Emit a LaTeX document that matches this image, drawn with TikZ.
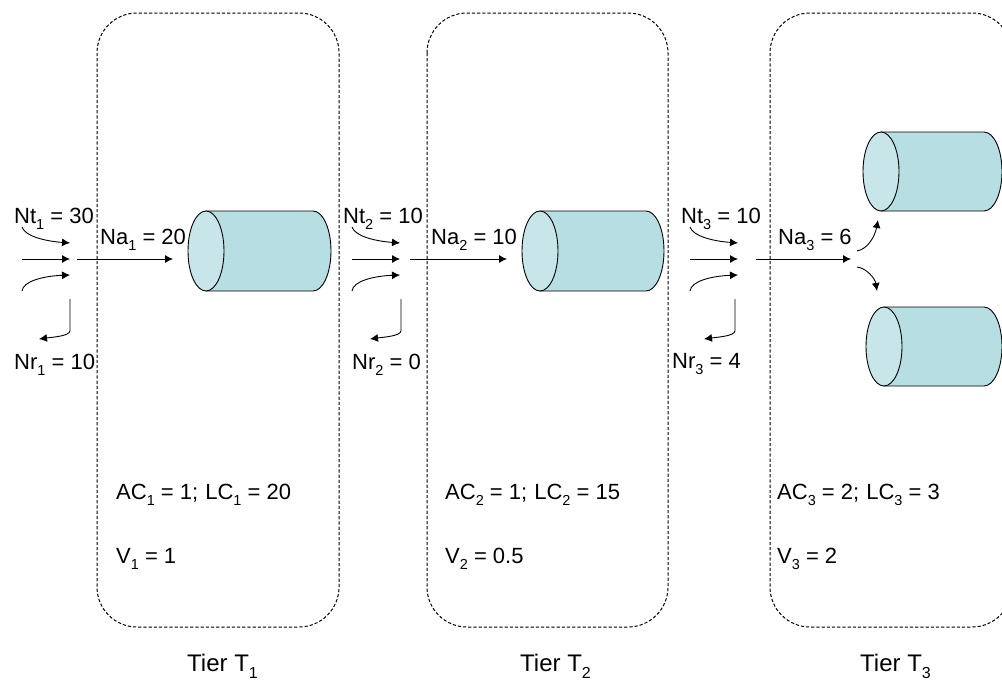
\documentclass[tikz,border=0pt]{standalone}
\usepackage{fontspec}
\setmainfont{Liberation Sans}
\usetikzlibrary{arrows.meta}
\definecolor{cylbody}{HTML}{B7DFE3}
\definecolor{cylface}{HTML}{C8E6E9}
\tikzset{
  x=1pt,y=-1pt,
  tierbox/.style={draw,line width=1pt,dash pattern=on 3.2pt off 2pt,rounded corners=40pt},
  lbl/.style={inner sep=0pt,anchor=base west,yshift=-1.5pt,font=\fontsize{22}{24}\selectfont},
  tierlbl/.style={inner sep=0pt,anchor=base west,yshift=-1.5pt,font=\fontsize{24}{26}\selectfont},
  flow/.style={line width=0.9pt,-{Latex[length=8pt,width=8pt]}},
  cylline/.style={draw=black,line width=0.9pt}
}
\newcommand{\sbs}[1]{\raisebox{-5.5pt}{\fontsize{14.5}{14.5}\selectfont #1}}
\newcommand{\tsbs}[1]{\raisebox{-6.5pt}{\fontsize{16}{16}\selectfont #1}}
\newcommand{\cyl}[5]{% name, face centre x, top y, arc centre x, bottom y
  \path[fill=cylbody,cylline] (#2,#3) -- (#4,#3) arc[start angle=-90,end angle=90,x radius=18,y radius={(#5-#3)/2}] -- (#2,#5) -- cycle;
  \path[fill=cylface,cylline] ({#2},{(#3+#5)/2}) ellipse[x radius=18,y radius={(#5-#3)/2}];
  \coordinate (#1) at (#2,{(#3+#5)/2});
}
\newcommand{\flows}[3]{% prefix, x origin, x of return line
  \coordinate (#1s1) at (#2,227); \coordinate (#1e1) at (#2+48,243);
  \coordinate (#1s2) at (#2,259); \coordinate (#1e2) at (#2+48,259);
  \coordinate (#1s3) at (#2,291); \coordinate (#1e3) at (#2+48,275);
  \coordinate (#1s4) at (#3,299); \coordinate (#1e4) at (#3-31,339);
  \draw[flow] (#1s1) .. controls (#2+3,236) and (#2+22,241) .. (#1e1);
  \draw[flow] (#1s2) -- (#1e2);
  \draw[flow] (#1s3) .. controls (#2+1,281) and (#2+22,276) .. (#1e3);
  \draw[flow] (#1s4) -- (#3,331) .. controls (#3-1,336) and (#3-16,337) .. (#1e4);
}
\begin{document}
\begin{tikzpicture}
\useasboundingbox (0,0) rectangle (1002,683);
\draw[tierbox] (97,13) rectangle (339,627);
\draw[tierbox] (427,13) rectangle (668,627);
\begin{scope}
\clip (0,0) rectangle (1002,683);
\draw[tierbox] (770,13) rectangle (1012,627);
\cyl{c1}{206}{211}{313}{291}
\cyl{c2}{540}{211}{646}{291}
\cyl{c3}{881}{132}{984}{211}
\cyl{c4}{884}{307}{984}{386}
\end{scope}
\flows{a}{22}{70}
\flows{b}{352}{401}
\flows{d}{690}{735}
\coordinate (a5) at (77,259); \coordinate (a6) at (173,259);
\coordinate (b5) at (410,259); \coordinate (b6) at (507,259);
\coordinate (d5) at (756,259); \coordinate (d6) at (851,259);
\draw[flow] (a5) -- (a6);
\draw[flow] (b5) -- (b6);
\draw[flow] (d5) -- (d6);
\coordinate (u1) at (857,251); \coordinate (u2) at (878,220);
\coordinate (v1) at (857,267); \coordinate (v2) at (877,291);
\draw[flow] (u1) .. controls (868,249) and (875,236) .. (u2);
\draw[flow] (v1) .. controls (866,268) and (875,278) .. (v2);
\node[lbl] (nt1) at (14,222) {Nt\sbs{1} = 30};
\node[lbl] (na1) at (100,243) {Na\sbs{1} = 20};
\node[lbl] (nr1) at (14,368) {Nr\sbs{1} = 10};
\node[lbl] (nt2) at (343,222) {Nt\sbs{2} = 10};
\node[lbl] (na2) at (431,243) {Na\sbs{2} = 10};
\node[lbl] (nr2) at (352,368) {Nr\sbs{2} = 0};
\node[lbl] (nt3) at (681,222) {Nt\sbs{3} = 10};
\node[lbl] (na3) at (778,243) {Na\sbs{3} = 6};
\node[lbl] (nr3) at (672,367) {Nr\sbs{3} = 4};
\node[lbl] (ac1) at (116,498) {AC\sbs{1} = 1;\hspace{1pt} LC\sbs{1} = 20};
\node[lbl] (v1t) at (116,562) {V\sbs{1} = 1};
\node[lbl] (ac2) at (445,498) {AC\sbs{2} = 1;\hspace{1pt} LC\sbs{2} = 15};
\node[lbl] (v2t) at (445,562) {V\sbs{2} = 0.5};
\node[lbl] (ac3) at (777,498) {AC\sbs{3} = 2;\hspace{1pt} LC\sbs{3} = 3};
\node[lbl] (v3t) at (777,562) {V\sbs{3} = 2};
\node[tierlbl] (t1) at (187,670) {Tier T\tsbs{1}};
\node[tierlbl] (t2) at (520,670) {Tier T\tsbs{2}};
\node[tierlbl] (t3) at (860,670) {Tier T\tsbs{3}};
\end{tikzpicture}
\end{document}
